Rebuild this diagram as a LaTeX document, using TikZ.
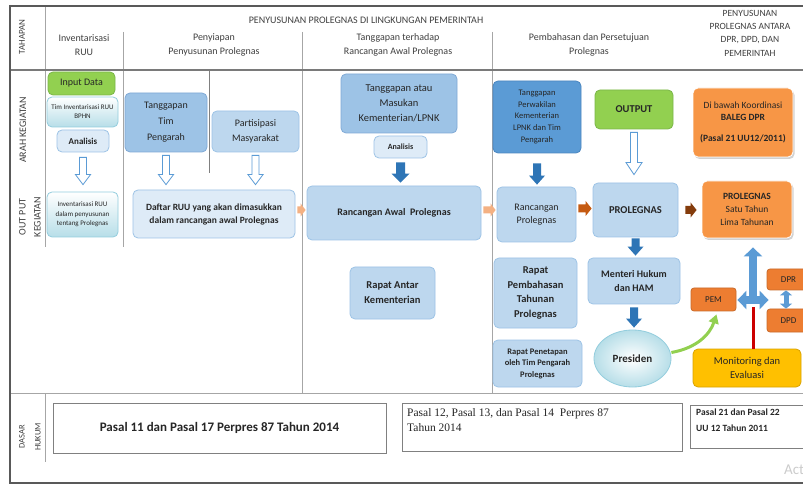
\documentclass[tikz,border=0pt]{standalone}
\usepackage{fontspec}
\setmainfont{Carlito}
\newfontfamily\seriffont{Liberation Serif}
\usetikzlibrary{shapes.geometric,shadows,calc,arrows.meta}
\definecolor{lblue}{HTML}{BDD7EE}
\definecolor{lbdraw}{HTML}{9DC3E6}
\definecolor{mblue}{HTML}{9DC3E6}
\definecolor{mbdraw}{HTML}{7FA9D6}
\definecolor{vlblue}{HTML}{DEEBF7}
\definecolor{dblue}{HTML}{5B9BD5}
\definecolor{dbdraw}{HTML}{4A86C0}
\definecolor{arblue}{HTML}{2E75B6}
\definecolor{xblue}{HTML}{5B9BD5}
\definecolor{lgreen}{HTML}{92D050}
\definecolor{gdraw}{HTML}{7AB648}
\definecolor{lorange}{HTML}{F79646}
\definecolor{dorange}{HTML}{ED7D31}
\definecolor{yell}{HTML}{FFC000}
\definecolor{peach}{HTML}{F4B183}
\definecolor{brownA}{HTML}{C55A11}
\definecolor{brownB}{HTML}{843C0C}
\definecolor{cyanb}{HTML}{B7DEE8}
\definecolor{cyand}{HTML}{93CDDD}
\definecolor{framec}{HTML}{595959}
\definecolor{rulec}{HTML}{A6A6A6}
\definecolor{txt}{HTML}{262626}
\definecolor{hdrc}{HTML}{404040}
\definecolor{redl}{HTML}{CC0000}
\newcommand\fs[2]{\fontsize{#1}{#2}\selectfont}
% vertical block arrow: from node, to node, shaft half, head half, head len, style, top gap, bottom gap
\newcommand\vblock[8]{%
  \path[#6] let \p1=(#1.south), \p2=(#2.north) in
    (\x1-#3,\y1-#7) -- (\x1+#3,\y1-#7) -- (\x1+#3,\y2+#8+#5) -- (\x1+#4,\y2+#8+#5)
    -- (\x1,\y2+#8) -- (\x1-#4,\y2+#8+#5) -- (\x1-#3,\y2+#8+#5) -- cycle;}
% horizontal block arrow: from coord, to coord, shaft half, head half, head len, style, left gap, right gap
\newcommand\hblock[8]{%
  \path[#6] let \p1=#1, \p2=#2 in
    (\x1+#7,\y1+#3) -- (\x2-#8-#5,\y1+#3) -- (\x2-#8-#5,\y1+#4) -- (\x2-#8,\y1)
    -- (\x2-#8-#5,\y1-#4) -- (\x2-#8-#5,\y1-#3) -- (\x1+#7,\y1-#3) -- cycle;}
\tikzset{
  box/.style={rounded corners=5pt, align=center, inner sep=1pt, line width=0.8pt, text=txt},
  sz/.style 2 args={minimum width=#1pt, minimum height=#2pt},
  lb/.style={box, fill=lblue, draw=lbdraw},
  mb/.style={box, fill=mblue, draw=mbdraw},
  vb/.style={box, fill=vlblue, draw=lbdraw},
  db/.style={box, fill=dblue, draw=dbdraw},
  gb/.style={box, fill=lgreen, draw=gdraw},
  cb/.style={box, top color=white, bottom color=cyanb, draw=cyand},
  ob/.style={box, fill=lorange, draw=white, drop shadow={shadow xshift=1.5pt, shadow yshift=-2pt, opacity=.35}, text=txt},
  pb/.style={box, rounded corners=3pt, fill=dorange, draw=dorange!85!black, font=\fs{9}{11}},
  yb/.style={box, fill=yell, draw=yell!85!black},
  law/.style={draw=gray, line width=0.8pt, inner sep=0pt},
  hollow/.style={draw=dblue, fill=white, line width=0.8pt},
  solidarr/.style={fill=arblue},
  hdrtext/.style={text=hdrc, align=center, inner sep=0pt},
  rulel/.style={draw=rulec, line width=0.9pt},
  xarrow/.style={draw=xblue, line width=8pt, -{Triangle[width=18pt,length=9pt]}},
}
\begin{document}
\begin{tikzpicture}[x=1pt,y=-1pt]
\useasboundingbox (0,0) rectangle (803,486);
\clip (0,0) rectangle (803,486);
\fill[white] (0,0) rectangle (803,486);

% grid lines
\draw[rulel] (45,6) -- (45,247);
\draw[rulel] (45,393) -- (45,462);
\draw[rulel] (123,32) -- (123,247);
\draw[rulel, draw=gray] (209,70) -- (209,173);
\draw[rulel] (302,32) -- (302,393);
\draw[rulel] (492,32) -- (492,393);
\draw[rulel] (10,393) -- (803,393);
\draw[draw=framec!80, line width=1.6pt] (10,70) -- (803,70);
\draw[draw=framec, line width=2.2pt] (10,6) -- (803,6);
\draw[draw=framec, line width=2pt] (10,5) -- (10,484);
\draw[draw=framec, line width=2pt] (10,483) -- (803,483);

% headers
\node[hdrtext, font=\fs{10}{12}] (h0) at (366,20) {PENYUSUNAN PROLEGNAS DI LINGKUNGAN PEMERINTAH};
\node[hdrtext, font=\fs{10}{14}] (h1) at (84,45) {Inventarisasi\\RUU};
\node[hdrtext, font=\fs{10}{14}] (h2) at (214,45) {Penyiapan\\Penyusunan Prolegnas};
\node[hdrtext, font=\fs{10}{14}] (h3) at (398,45) {Tanggapan terhadap\\Rancangan Awal Prolegnas};
\node[hdrtext, font=\fs{10}{14}] (h4) at (589,45) {Pembahasan dan Persetujuan\\Prolegnas};
\node[hdrtext, font=\fs{9.5}{13.3}] (h5) at (750,33) {PENYUSUNAN\\PROLEGNAS ANTARA\\DPR, DPD, DAN\\PEMERINTAH};
\node[hdrtext, rotate=90, font=\fs{9}{11}] (tah) at (22,37) {TAHAPAN};
\node[hdrtext, rotate=90, font=\fs{10}{12}] (arah) at (23,130) {ARAH KEGIATAN};
\node[hdrtext, rotate=90, font=\fs{10}{15}] (outp) at (30,217) {OUT PUT\\KEGIATAN};
\node[hdrtext, rotate=90, font=\fs{8.5}{16}] (dasar) at (30,437) {DASAR\\HUKUM};

% column 1
\node[gb, sz={67}{23}, font=\fs{10}{12}] (input) at (81.5,83.5) {Input Data};
\node[cb, sz={71}{30}, font=\fs{7}{9}] (timinv) at (82.5,112) {Tim Inventarisasi RUU\\BPHN};
\node[vb, sz={52}{22}, font=\bfseries\fs{9}{11}] (anal1) at (83,141) {Analisis};
\node[cb, sz={71}{45}, font=\fs{7}{9.5}] (invout) at (82.5,214.5) {Inventarisasi RUU\\dalam penyusunan\\tentang Prolegnas};

% column 2
\node[mb, sz={82}{59}, font=\fs{10}{16}] (timpeng) at (166,122.5) {Tanggapan\\Tim\\Pengarah};
\node[lb, sz={87}{41}, font=\fs{10}{15}] (partis) at (255.5,131.5) {Partisipasi\\Masyarakat};
\node[vb, sz={162}{48}, font=\bfseries\fs{9.5}{13}] (daftar) at (214,214) {Daftar RUU yang akan dimasukkan\\dalam rancangan awal Prolegnas};

% column 3
\node[mb, sz={116}{59}, font=\fs{10.5}{15}] (tangkem) at (399,103.5) {Tanggapan atau\\Masukan\\Kementerian/LPNK};
\node[vb, sz={53}{22}, font=\bfseries\fs{8}{10}] (anal2) at (400.5,147) {Analisis};
\node[lb, sz={174}{54}, font=\bfseries\fs{10}{12}] (rawal) at (394,213) {Rancangan Awal\ \ Prolegnas};
\node[lb, sz={85}{52}, font=\bfseries\fs{10.5}{15}] (rak) at (392.5,293) {Rapat Antar\\Kementerian};

% column 4
\node[db, sz={88}{72}, font=\fs{8.5}{11.7}] (tperw) at (537,117) {Tanggapan\\Perwakilan\\Kementerian\\LPNK dan Tim\\Pengarah};
\node[lb, sz={79}{55}, font=\fs{10}{13}] (rprol) at (536.5,214.5) {Rancangan\\Prolegnas};
\node[gb, sz={78}{39}, font=\bfseries\fs{10.5}{12}] (output) at (634,109.5) {OUTPUT};
\node[lb, sz={85}{54}, font=\bfseries\fs{10.5}{12}] (prol) at (635.5,210) {PROLEGNAS};
\node[lb, sz={92}{46}, font=\bfseries\fs{10}{14}] (menteri) at (634,281) {Menteri Hukum\\dan HAM};
\node[ellipse, inner color=white, outer color=cyanb, draw=cyand, line width=0.8pt, sz={77}{57}, inner sep=0pt, text=txt, font=\bfseries\fs{11}{13}] (presiden) at (632.5,358.5) {Presiden};
\node[lb, sz={83}{70}, font=\bfseries\fs{10.5}{14.5}] (rpemb) at (535.5,293) {Rapat\\Pembahasan\\Tahunan\\Prolegnas};
\node[lb, sz={89}{47}, font=\bfseries\fs{8.5}{11.5}] (rpenet) at (537.5,363.5) {Rapat Penetapan\\oleh Tim Pengarah\\Prolegnas};

% column 5
\node[ob, sz={100}{69}, font=\color{txt}\fs{9.5}{11.5}] (baleg) at (743,122.5) {Di bawah Koordinasi\\\textbf{BALEG DPR}\\[10pt]\textbf{(Pasal 21 UU12/2011)}};
\node[ob, sz={90}{57}, font=\color{txt}\fs{9.5}{13}] (prol2) at (747,209.5) {\textbf{PROLEGNAS}\\Satu Tahun\\Lima Tahunan};
\node[pb, sz={45}{23}] (pem) at (713.5,299.5) {PEM};
\node[pb, sz={43}{21}] (dpr) at (788.5,279.5) {DPR};
\node[pb, sz={43}{23}] (dpd) at (788.5,320.5) {DPD};
\node[yb, sz={108}{38}, font=\fs{10.5}{14}] (monev) at (747,368) {Monitoring dan\\Evaluasi};

% legal basis
\node[law, sz={333}{50}, text=txt, font=\bfseries\fs{13}{15}] (hk1) at (219.5,428) {Pasal 11 dan Pasal 17 Perpres 87 Tahun 2014};
\node[law, sz={280}{48}] (hk2) at (542,427) {};
\node[anchor=north west, align=left, inner sep=0pt, text=txt, font=\seriffont\fs{11.5}{15}] (hk2t) at (407,408) {Pasal 12, Pasal 13, dan Pasal 14\ \ Perpres 87\\Tahun 2014};
\node[law, sz={125}{43}] (hk3) at (752.5,426.5) {};
\node[anchor=north west, align=left, inner sep=0pt, text=txt, font=\bfseries\fs{9.5}{16}] (hk3t) at (696,409) {Pasal 21 dan Pasal 22\\UU 12 Tahun 2011};
\node[anchor=west, inner sep=0pt, text=gray!40, font=\fs{15}{15}] (act) at (784,470) {Act};

% block arrows
\vblock{anal1}{invout}{3.5pt}{7.5pt}{10pt}{hollow}{5pt}{7pt}
\vblock{timpeng}{daftar}{3.5pt}{7.5pt}{10pt}{hollow}{3pt}{5pt}
\vblock{partis}{daftar}{3.5pt}{7.5pt}{10pt}{hollow}{3pt}{5pt}
\vblock{output}{prol}{3.5pt}{8pt}{12pt}{hollow}{3pt}{8pt}
\vblock{anal2}{rawal}{4.5pt}{9pt}{9pt}{solidarr}{4pt}{3pt}
\vblock{tperw}{rprol}{4pt}{8pt}{9pt}{solidarr}{10pt}{2pt}
\vblock{prol}{menteri}{4pt}{8pt}{9pt}{solidarr}{1pt}{2pt}
\vblock{menteri}{presiden}{4pt}{8pt}{9pt}{solidarr}{3pt}{2pt}
\hblock{($(daftar.east)+(0,-4)$)}{(rawal.west)}{3.5pt}{6.5pt}{5pt}{fill=peach}{2pt}{1pt}
\hblock{($(rawal.east)+(0,-3)$)}{(rprol.west)}{3.5pt}{6.5pt}{5pt}{fill=peach}{2pt}{1pt}
\hblock{($(rprol.east)+(0,-6)$)}{(prol.west)}{4pt}{7.5pt}{6pt}{fill=brownA}{2pt}{1pt}
\hblock{(prol.east)}{(prol2.west)}{4pt}{7.5pt}{6pt}{fill=brownB}{7pt}{5pt}

% cross arrow and links
\coordinate (cross) at (753,300);
\draw[draw=redl, line width=3pt, shorten >=7pt] (monev.north -| cross) -- (cross);
\draw[xarrow, shorten >=9pt] (cross) -- (cross |- prol2.south);
\draw[xarrow, shorten >=1pt] (cross) -- (cross -| pem.east);
\draw[xarrow, shorten >=-2pt] (cross) -- (cross -| dpr.west);
\draw[draw=xblue, line width=5pt, {Triangle[width=12pt,length=5pt]}-{Triangle[width=12pt,length=5pt]}] ($(dpr.south)+(-2.5,0)$) -- ($(dpd.north)+(-2.5,0)$);
\draw[draw=lgreen, line width=3pt, -{Triangle[width=10pt,length=9pt]}] ($(presiden.east)+(0,-6)$) .. controls (697,348) and (710,334) .. ($(pem.south)+(3,3)$);
\end{tikzpicture}
\end{document}
